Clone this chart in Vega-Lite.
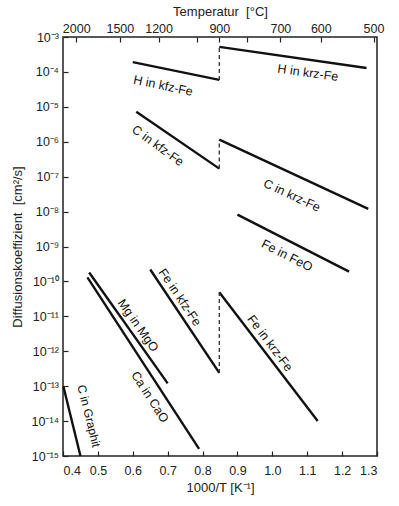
{
  "$schema": "https://vega.github.io/schema/vega-lite/v6.json",
  "width": 314,
  "height": 419,
  "autosize": "none",
  "padding": {"left": 63, "top": 37, "right": 22, "bottom": 50},
  "background": "white",
  "config": {
    "font": "Liberation Sans",
    "view": {"stroke": "#222", "strokeWidth": 1.5},
    "axis": {"grid": false, "domain": false, "tickColor": "#222", "tickWidth": 1.2, "labelColor": "#222", "titleColor": "#222", "labelFont": "Liberation Sans", "titleFont": "Liberation Sans", "titleFontWeight": "normal", "labelFontSize": 12.5, "titleFontSize": 13}
  },
  "datasets": {
    "lines": [
      {"series": "H in kfz-Fe", "x": 0.60, "D": 1.9e-4},
      {"series": "H in kfz-Fe", "x": 0.848, "D": 5.9e-5},
      {"series": "H in krz-Fe", "x": 0.848, "D": 5.2e-4},
      {"series": "H in krz-Fe", "x": 1.27, "D": 1.3e-4},
      {"series": "C in kfz-Fe", "x": 0.61, "D": 7.2e-6},
      {"series": "C in kfz-Fe", "x": 0.848, "D": 1.7e-7},
      {"series": "C in krz-Fe", "x": 0.848, "D": 1.15e-6},
      {"series": "C in krz-Fe", "x": 1.275, "D": 1.2e-8},
      {"series": "Fe in FeO", "x": 0.90, "D": 8.2e-9},
      {"series": "Fe in FeO", "x": 1.22, "D": 1.9e-10},
      {"series": "Mg in MgO", "x": 0.475, "D": 1.8e-10},
      {"series": "Mg in MgO", "x": 0.70, "D": 1.2e-13},
      {"series": "Ca in CaO", "x": 0.47, "D": 1.3e-10},
      {"series": "Ca in CaO", "x": 0.79, "D": 1.6e-15},
      {"series": "Fe in kfz-Fe", "x": 0.65, "D": 2.2e-10},
      {"series": "Fe in kfz-Fe", "x": 0.848, "D": 2.4e-13},
      {"series": "Fe in krz-Fe", "x": 0.848, "D": 4.9e-11},
      {"series": "Fe in krz-Fe", "x": 1.13, "D": 1.0e-14},
      {"series": "C in Graphit", "x": 0.401, "D": 1.0e-13},
      {"series": "C in Graphit", "x": 0.45, "D": 1.0e-15}
    ],
    "dashes": [
      {"series": "H", "x": 0.848, "D": 5.9e-5},
      {"series": "H", "x": 0.848, "D": 5.2e-4},
      {"series": "C", "x": 0.848, "D": 1.7e-7},
      {"series": "C", "x": 0.848, "D": 1.15e-6},
      {"series": "Fe", "x": 0.848, "D": 2.4e-13},
      {"series": "Fe", "x": 0.848, "D": 4.9e-11}
    ],
    "labels": [
      {"label": "H in kfz-Fe", "x": 0.687, "D": 4.0e-5},
      {"label": "H in krz-Fe", "x": 1.102, "D": 9.4e-5},
      {"label": "C in kfz-Fe", "x": 0.672, "D": 7.7e-7},
      {"label": "C in krz-Fe", "x": 1.056, "D": 2.9e-8},
      {"label": "Fe in FeO", "x": 1.042, "D": 5.5e-10},
      {"label": "Mg in MgO", "x": 0.615, "D": 5.5e-12},
      {"label": "Fe in kfz-Fe", "x": 0.735, "D": 3.5e-11},
      {"label": "Fe in krz-Fe", "x": 0.993, "D": 1.7e-12},
      {"label": "Ca in CaO", "x": 0.649, "D": 4.9e-14},
      {"label": "C in Graphit", "x": 0.474, "D": 1.4e-14}
    ]
  },
  "resolve": {"axis": {"x": "independent", "y": "independent"}},
  "layer": [
    {
      "data": {"name": "lines"},
      "mark": {"type": "line", "color": "#111", "strokeWidth": 2.4},
      "encoding": {
        "x": {"field": "x", "type": "quantitative", "scale": {"domain": [0.4, 1.3], "nice": false, "zero": false},
          "axis": {"orient": "bottom", "values": [0.4, 0.5, 0.6, 0.7, 0.8, 0.9, 1.0, 1.1, 1.2, 1.3], "format": ".1f", "tickSize": -5, "labelPadding": 13, "title": "1000/T [K⁻¹]", "titlePadding": 5}},
        "y": {"field": "D", "type": "quantitative", "scale": {"type": "log", "domain": [1e-15, 1e-3], "nice": false},
          "axis": {"orient": "left", "values": [1e-15, 1e-14, 1e-13, 1e-12, 1e-11, 1e-10, 1e-9, 1e-8, 1e-7, 1e-6, 1e-5, 1e-4, 1e-3], "tickSize": -5, "labelPadding": 9.5, "labelFontSize": 12.5,
            "labelExpr": "'10' + ['⁻³','⁻⁴','⁻⁵','⁻⁶','⁻⁷','⁻⁸','⁻⁹','⁻¹⁰','⁻¹¹','⁻¹²','⁻¹³','⁻¹⁴','⁻¹⁵'][round(-log(datum.value)/LN10) - 3]",
            "title": "Diffusionskoeffizient\u00a0\u00a0[cm²/s]", "titlePadding": 7}},
        "detail": {"field": "series"}
      }
    },
    {
      "data": {"name": "dashes"},
      "mark": {"type": "line", "color": "#333", "strokeWidth": 1.3, "strokeDash": [4, 3]},
      "encoding": {
        "x": {"field": "x", "type": "quantitative", "scale": {"domain": [0.4, 1.3], "nice": false, "zero": false},
          "axis": {"orient": "top", "values": [0.438, 0.563, 0.674, 0.785, 0.848, 0.928, 1.023, 1.139, 1.290], "tickSize": -5, "labelPadding": 7,
            "labelExpr": "datum.value < 0.5 ? '2000' : datum.value < 0.6 ? '1500' : datum.value < 0.7 ? '1200' : datum.value < 0.8 ? '' : datum.value < 0.9 ? '900' : datum.value < 1.0 ? '' : datum.value < 1.1 ? '700' : datum.value < 1.2 ? '600' : '500'",
            "title": "Temperatur\u00a0\u00a0[°C]", "titlePadding": 4}},
        "y": {"field": "D", "type": "quantitative", "axis": null},
        "detail": {"field": "series"}
      }
    },
    {"data": {"name": "labels"}, "transform": [{"filter": "datum.label == 'H in kfz-Fe'"}], "mark": {"type": "text", "angle": 12, "fontSize": 12.5, "color": "#111"}, "encoding": {"x": {"field": "x", "type": "quantitative", "axis": null}, "y": {"field": "D", "type": "quantitative", "axis": null}, "text": {"field": "label"}}},
    {"data": {"name": "labels"}, "transform": [{"filter": "datum.label == 'H in krz-Fe'"}], "mark": {"type": "text", "angle": 8, "fontSize": 12.5, "color": "#111"}, "encoding": {"x": {"field": "x", "type": "quantitative", "axis": null}, "y": {"field": "D", "type": "quantitative", "axis": null}, "text": {"field": "label"}}},
    {"data": {"name": "labels"}, "transform": [{"filter": "datum.label == 'C in kfz-Fe'"}], "mark": {"type": "text", "angle": 36, "fontSize": 12.5, "color": "#111"}, "encoding": {"x": {"field": "x", "type": "quantitative", "axis": null}, "y": {"field": "D", "type": "quantitative", "axis": null}, "text": {"field": "label"}}},
    {"data": {"name": "labels"}, "transform": [{"filter": "datum.label == 'C in krz-Fe'"}], "mark": {"type": "text", "angle": 25, "fontSize": 12.5, "color": "#111"}, "encoding": {"x": {"field": "x", "type": "quantitative", "axis": null}, "y": {"field": "D", "type": "quantitative", "axis": null}, "text": {"field": "label"}}},
    {"data": {"name": "labels"}, "transform": [{"filter": "datum.label == 'Fe in FeO'"}], "mark": {"type": "text", "angle": 27, "fontSize": 12.5, "color": "#111"}, "encoding": {"x": {"field": "x", "type": "quantitative", "axis": null}, "y": {"field": "D", "type": "quantitative", "axis": null}, "text": {"field": "label"}}},
    {"data": {"name": "labels"}, "transform": [{"filter": "datum.label == 'Mg in MgO'"}], "mark": {"type": "text", "angle": 55, "fontSize": 12.5, "color": "#111"}, "encoding": {"x": {"field": "x", "type": "quantitative", "axis": null}, "y": {"field": "D", "type": "quantitative", "axis": null}, "text": {"field": "label"}}},
    {"data": {"name": "labels"}, "transform": [{"filter": "datum.label == 'Fe in kfz-Fe'"}], "mark": {"type": "text", "angle": 56, "fontSize": 12.5, "color": "#111"}, "encoding": {"x": {"field": "x", "type": "quantitative", "axis": null}, "y": {"field": "D", "type": "quantitative", "axis": null}, "text": {"field": "label"}}},
    {"data": {"name": "labels"}, "transform": [{"filter": "datum.label == 'Fe in krz-Fe'"}], "mark": {"type": "text", "angle": 53, "fontSize": 12.5, "color": "#111"}, "encoding": {"x": {"field": "x", "type": "quantitative", "axis": null}, "y": {"field": "D", "type": "quantitative", "axis": null}, "text": {"field": "label"}}},
    {"data": {"name": "labels"}, "transform": [{"filter": "datum.label == 'Ca in CaO'"}], "mark": {"type": "text", "angle": 57, "fontSize": 12.5, "color": "#111"}, "encoding": {"x": {"field": "x", "type": "quantitative", "axis": null}, "y": {"field": "D", "type": "quantitative", "axis": null}, "text": {"field": "label"}}},
    {"data": {"name": "labels"}, "transform": [{"filter": "datum.label == 'C in Graphit'"}], "mark": {"type": "text", "angle": 76, "fontSize": 12, "color": "#111"}, "encoding": {"x": {"field": "x", "type": "quantitative", "axis": null}, "y": {"field": "D", "type": "quantitative", "axis": null}, "text": {"field": "label"}}}
  ]
}
